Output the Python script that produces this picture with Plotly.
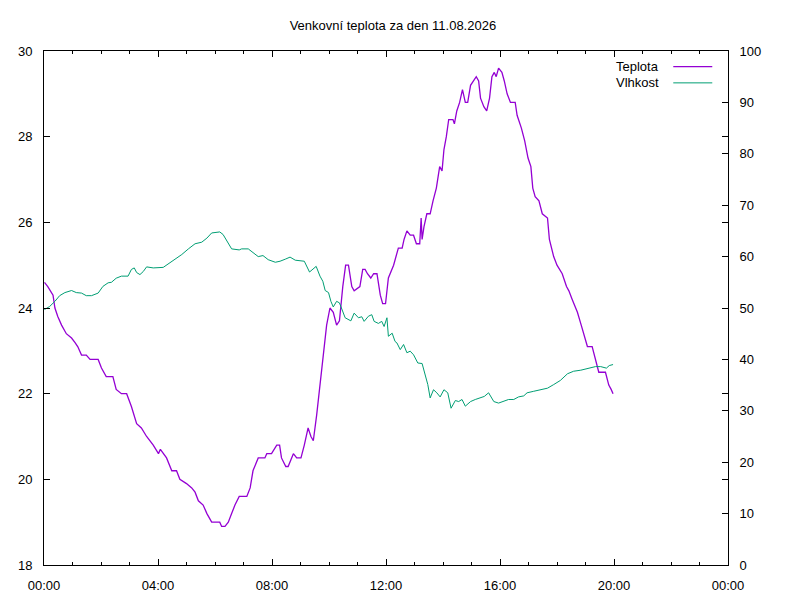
import plotly.graph_objects as go

DAY = "2026-08-11"
TITLE = "Venkovní teplota za den 11.08.2026"

# teplota (C)
temp_time = [
    "00:01", "00:08", "00:19", "00:23", "00:29", "00:37", "00:47", "00:58", "01:05", "01:11",
    "01:19", "01:29", "01:37", "01:54", "02:01", "02:11", "02:25", "02:32", "02:43", "02:54",
    "03:04", "03:15", "03:25", "03:36", "03:50", "04:01", "04:05", "04:18", "04:29", "04:39",
    "04:46", "05:00", "05:11", "05:18", "05:25", "05:35", "05:43", "05:53", "06:10", "06:14",
    "06:21", "06:28", "06:35", "06:42", "06:51", "07:07", "07:14", "07:20", "07:31", "07:45",
    "07:49", "07:59", "08:10", "08:16", "08:20", "08:29", "08:34", "08:45", "08:52", "09:01",
    "09:08", "09:16", "09:22", "09:27", "09:34", "09:41", "09:48", "09:55", "10:02", "10:09",
    "10:16", "10:22", "10:29", "10:35", "10:41", "10:48", "10:53", "11:05", "11:11", "11:16",
    "11:21", "11:28", "11:34", "11:41", "11:48", "11:53", "11:59", "12:05", "12:16", "12:26",
    "12:34", "12:38", "12:44", "12:51", "12:58", "13:04", "13:11", "13:14", "13:16", "13:20",
    "13:26", "13:33", "13:39", "13:46", "13:53", "13:58", "14:02", "14:07", "14:12", "14:21",
    "14:24", "14:29", "14:35", "14:41", "14:47", "14:52", "14:58", "15:04", "15:10", "15:15",
    "15:19", "15:26", "15:32", "15:38", "15:43", "15:48", "15:52", "15:57", "16:04", "16:09",
    "16:15", "16:22", "16:32", "16:36", "16:45", "16:52", "16:59", "17:05", "17:09", "17:14",
    "17:22", "17:29", "17:40", "17:44", "17:53", "18:00", "18:11", "18:20", "18:25", "18:32",
    "18:43", "18:51", "18:58", "19:04", "19:14", "19:21", "19:28", "19:42", "19:49", "19:54",
    "19:58",
]
temp_vals = [
    24.6, 24.5, 24.3, 24.0, 23.8, 23.6, 23.4, 23.3, 23.2, 23.1,
    22.9, 22.9, 22.8, 22.8, 22.6, 22.4, 22.4, 22.1, 22.0, 22.0,
    21.7, 21.3, 21.2, 21.0, 20.8, 20.6, 20.7, 20.5, 20.2, 20.2,
    20.0, 19.9, 19.8, 19.7, 19.5, 19.4, 19.2, 19.0, 19.0, 18.9,
    18.9, 19.0, 19.2, 19.4, 19.6, 19.6, 19.8, 20.2, 20.5, 20.5,
    20.6, 20.6, 20.8, 20.8, 20.5, 20.3, 20.3, 20.6, 20.5, 20.5,
    20.8, 21.2, 21.0, 20.9, 21.5, 22.2, 23.0, 23.6, 24.0, 23.9,
    23.6, 23.7, 24.5, 25.0, 25.0, 24.5, 24.4, 24.5, 24.9, 24.9,
    24.8, 24.7, 24.8, 24.8, 24.3, 24.1, 24.1, 24.7, 25.0, 25.4,
    25.4, 25.6, 25.8, 25.7, 25.7, 25.5, 25.5, 26.1, 25.6, 25.9,
    26.2, 26.2, 26.5, 26.8, 27.3, 27.2, 27.7, 28.0, 28.4, 28.4,
    28.3, 28.6, 28.8, 29.1, 28.8, 28.8, 29.2, 29.3, 29.4, 29.3,
    28.9, 28.7, 28.6, 28.9, 29.4, 29.5, 29.4, 29.6, 29.5, 29.3,
    29.0, 28.8, 28.8, 28.5, 28.2, 27.9, 27.5, 27.3, 26.8, 26.6,
    26.5, 26.2, 26.1, 25.6, 25.2, 25.0, 24.8, 24.5, 24.4, 24.2,
    23.9, 23.6, 23.3, 23.1, 23.1, 22.8, 22.5, 22.5, 22.2, 22.1,
    22.0,
]

# vlhkost (%)
hum_time = [
    "00:01", "00:12", "00:23", "00:33", "00:44", "00:58", "01:08", "01:19", "01:29", "01:40",
    "01:54", "02:04", "02:15", "02:22", "02:32", "02:43", "02:57", "03:04", "03:10", "03:15",
    "03:22", "03:29", "03:36", "03:50", "04:11", "04:22", "04:35", "04:50", "05:04", "05:18",
    "05:32", "05:43", "05:53", "06:10", "06:17", "06:25", "06:35", "06:51", "06:56", "07:10",
    "07:20", "07:31", "07:41", "07:52", "08:07", "08:17", "08:28", "08:38", "08:49", "08:59",
    "09:08", "09:19", "09:26", "09:33", "09:41", "09:47", "09:52", "09:59", "10:04", "10:09",
    "10:16", "10:22", "10:27", "10:34", "10:46", "10:53", "11:02", "11:09", "11:14", "11:23",
    "11:30", "11:35", "11:44", "11:51", "11:56", "12:02", "12:05", "12:13", "12:19", "12:23",
    "12:30", "12:37", "12:44", "12:51", "12:58", "13:07", "13:16", "13:23", "13:28", "13:33",
    "13:40", "13:47", "13:54", "14:02", "14:10", "14:17", "14:26", "14:33", "14:40", "14:47",
    "14:58", "15:08", "15:19", "15:27", "15:36", "15:47", "15:57", "16:08", "16:18", "16:29",
    "16:39", "16:50", "16:57", "17:11", "17:25", "17:40", "17:53", "18:07", "18:22", "18:35",
    "18:50", "19:07", "19:21", "19:32", "19:44", "19:50", "19:58",
]
hum_vals = [
    49.7, 50.3, 51.3, 52.4, 53.0, 53.4, 53.0, 52.9, 52.4, 52.4,
    52.9, 54.2, 54.9, 55.0, 55.8, 56.2, 56.2, 57.5, 57.8, 56.9,
    56.5, 57.1, 58.0, 57.8, 57.9, 58.6, 59.3, 60.4, 61.5, 62.5,
    62.8, 63.6, 64.6, 64.8, 64.3, 63.0, 61.5, 61.3, 61.5, 61.5,
    60.7, 60.0, 60.2, 59.4, 58.9, 59.1, 59.5, 59.9, 59.3, 59.2,
    59.1, 57.0, 57.6, 58.1, 56.2, 55.2, 53.4, 53.0, 51.3, 50.2,
    51.3, 51.0, 49.8, 48.1, 47.5, 49.0, 48.1, 48.3, 47.4, 48.4,
    48.7, 47.4, 47.0, 47.4, 46.4, 48.1, 44.5, 45.1, 43.5, 43.2,
    41.9, 42.9, 41.3, 41.6, 40.9, 39.3, 39.2, 36.7, 35.1, 32.5,
    34.1, 33.5, 32.7, 34.1, 33.5, 30.5, 32.0, 31.8, 32.2, 30.9,
    31.8, 32.2, 32.5, 32.8, 33.5, 31.8, 31.5, 31.8, 32.2, 32.2,
    32.7, 32.9, 33.5, 33.8, 34.1, 34.4, 35.1, 35.9, 37.2, 37.7,
    37.9, 38.3, 38.6, 38.6, 38.3, 38.8, 39.0,
]

TEMP_COLOR = "#9400d3"
HUM_COLOR = "#009e73"
FONT = "Liberation Sans, Arial, sans-serif"
FS = 13

fig = go.Figure()
fig.add_trace(go.Scatter(
    x=[f"{DAY} {t}" for t in temp_time], y=temp_vals, name="Teplota",
    mode="lines", line=dict(color=TEMP_COLOR, width=1.3),
))
fig.add_trace(go.Scatter(
    x=[f"{DAY} {t}" for t in hum_time], y=hum_vals, name="Vlhkost",
    mode="lines", line=dict(color=HUM_COLOR, width=1), yaxis="y2",
))

axis_common = dict(
    showgrid=False, zeroline=False, showline=True, linecolor="black", linewidth=1,
    ticks="inside", ticklen=6, tickcolor="black", tickwidth=1, automargin=False,
    tickfont=dict(family=FONT, size=FS, color="black"),
)

# stranka ma 8px okraj, proto 792x592
fig.update_layout(
    width=792, height=592,
    margin=dict(l=36, r=72, t=43, b=35),
    plot_bgcolor="white", paper_bgcolor="white",
    showlegend=False,
    title=dict(text=TITLE, x=0.486, xanchor="center", y=0.971, yanchor="middle",
               font=dict(family=FONT, size=FS, color="black")),
    xaxis=dict(
        **axis_common, type="date", mirror="ticks",
        range=[f"{DAY} 00:00", "2026-08-12 00:00"],
        dtick=4 * 3600 * 1000, tickformat="%H:%M", ticklabelstandoff=8,
        minor=dict(dtick=3600 * 1000, ticks="inside", ticklen=3, tickcolor="black"),
    ),
    yaxis=dict(**axis_common, range=[18, 30], dtick=2, mirror="ticks", ticklabelstandoff=8),
    yaxis2=dict(**axis_common, range=[0, 100], dtick=10, overlaying="y", side="right",
                ticklabelstandoff=8),
)

# legenda jako v gnuplotu: text vlevo, vzorek cary vpravo
for i, (label, color) in enumerate([("Teplota", TEMP_COLOR), ("Vlhkost", HUM_COLOR)]):
    yy = 0.9695 - i * 0.0315
    fig.add_annotation(xref="paper", yref="paper", x=0.902, y=yy, text=label,
                       showarrow=False, xanchor="right", yanchor="middle",
                       font=dict(family=FONT, size=FS, color="black"))
    fig.add_shape(type="line", xref="paper", yref="paper", x0=0.920, x1=0.977, y0=yy, y1=yy,
                  line=dict(color=color, width=1.3 if i == 0 else 1))

fig.write_html("out.html")
